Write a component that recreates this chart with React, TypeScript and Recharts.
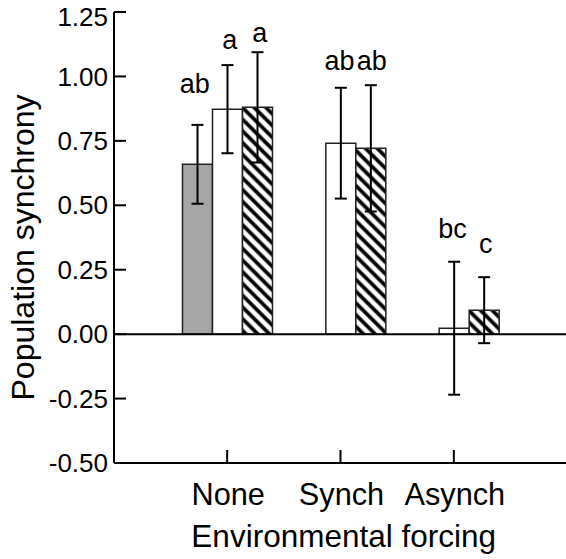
import React from 'react';
import { BarChart, Bar, XAxis, YAxis, ErrorBar, LabelList, ReferenceLine } from 'recharts';

// ---------- data ----------
const categories = ['None', 'Synch', 'Asynch'];
const greyValues = [0.659, null, null];
const greyErrors = [0.153, null, null];
const whiteValues = [0.873, 0.741, 0.023];
const whiteErrors = [0.171, 0.215, 0.258];
const hatchedValues = [0.88, 0.721, 0.093];
const hatchedErrors = [0.214, 0.245, 0.128];
const greyLetters = ['ab', '', ''];
const whiteLetters = ['a', 'ab', 'bc'];
const hatchedLetters = ['a', 'ab', 'c'];
const yTicks = [-0.5, -0.25, 0, 0.25, 0.5, 0.75, 1, 1.25];
const yDomain = [-0.5, 1.25];

const data = categories.map((cat, i) => ({
  cat,
  grey: greyValues[i],
  greyErr: greyErrors[i],
  greyLetter: greyLetters[i],
  white: whiteValues[i],
  whiteErr: whiteErrors[i],
  whiteLetter: whiteLetters[i],
  hatched: hatchedValues[i],
  hatchedErr: hatchedErrors[i],
  hatchedLetter: hatchedLetters[i],
}));

// ---------- layout / style ----------
const FONT = 'Liberation Sans, Arial, Helvetica, sans-serif';
const CHART_W = 580;
const CHART_H = 559;
const MARGIN = { top: 12, right: 0, bottom: 0, left: 0 };
const Y_AXIS_W = 114;
const RIGHT_AXIS_W = 13;
const X_AXIS_H = 96;
const PLOT_H = CHART_H - MARGIN.top - MARGIN.bottom - X_AXIS_H;
const PX_PER_UNIT = PLOT_H / (yDomain[1] - yDomain[0]);
const AXIS = { stroke: '#000', strokeWidth: 2 };

// letter placement: gap (px) above the error-bar top, and horizontal nudge
const GREY_LABEL = { gap: [32, 0, 0], dx: [-2.7, 0, 0] };
const WHITE_LABEL = { gap: [15.7, 17.7, 23.4], dx: [2.3, -1.3, -1.7] };
const HATCH_LABEL = { gap: [10.6, 15, 24.4], dx: [2.3, 1, 1.7] };

const makeLetter = (errs: (number | null)[], cfg: { gap: number[]; dx: number[] }) => (p: any) => {
  const value = p.value;
  if (!value) return null;
  const idx = p.index ?? 0;
  const x = p.x ?? p.viewBox?.x;
  const y = p.y ?? p.viewBox?.y;
  const w = p.width ?? p.viewBox?.width;
  const err = errs[idx] ?? 0;
  const top = y - err * PX_PER_UNIT;
  return (
    <text
      x={x + w / 2 + cfg.dx[idx]}
      y={top - cfg.gap[idx]}
      textAnchor="middle"
      fontSize={27}
      fontFamily={FONT}
      fill="#000"
    >
      {value}
    </text>
  );
};

const LeftTick = (p: any) => {
  const { x, y, payload } = p;
  const v = payload.value as number;
  const nudge = v === 1.25 ? 5.3 : 0;
  return (
    <g>
      <line x1={x} x2={x + 12} y1={y} y2={y} stroke="#000" strokeWidth={2} />
      <text x={x - 6} y={y + nudge} dy="0.35em" textAnchor="end" fontSize={26} fontFamily={FONT} fill="#000">
        {v.toFixed(2)}
      </text>
    </g>
  );
};

const RightTick = (p: any) => {
  const { x, y } = p;
  return <line x1={x - 12} x2={x} y1={y} y2={y} stroke="#000" strokeWidth={2} />;
};

const BottomTick = (p: any) => {
  const { x, y, payload } = p;
  return (
    <g>
      <line x1={x} x2={x} y1={y - 13} y2={y} stroke="#000" strokeWidth={2} />
      <text x={x + 1} y={y + 42} textAnchor="middle" fontSize={30.7} fontFamily={FONT} fill="#000">
        {payload.value}
      </text>
    </g>
  );
};

const TopTick = (p: any) => {
  const { x, y } = p;
  return <line x1={x} x2={x} y1={y} y2={y + 12} stroke="#000" strokeWidth={2} />;
};

const YTitle = (p: any) => {
  const vb = p.viewBox || { x: 0, y: MARGIN.top, width: Y_AXIS_W, height: PLOT_H };
  const cx = vb.x + 34;
  const cy = vb.y + vb.height / 2 + 10;
  return (
    <text
      x={cx}
      y={cy}
      transform={`rotate(-90, ${cx}, ${cy})`}
      textAnchor="middle"
      fontSize={32}
      fontFamily={FONT}
      fill="#000"
    >
      Population synchrony
    </text>
  );
};

const XTitle = (p: any) => {
  const vb = p.viewBox || { x: Y_AXIS_W, y: MARGIN.top + PLOT_H, width: 453, height: X_AXIS_H };
  return (
    <text
      x={vb.x + vb.width / 2 + 3.2}
      y={vb.y + 83.7}
      textAnchor="middle"
      fontSize={31.5}
      fontFamily={FONT}
      fill="#000"
    >
      Environmental forcing
    </text>
  );
};

export default function App() {
  return (
    <div
      style={{
        position: 'absolute',
        left: 0,
        top: 0,
        width: 566,
        height: 559,
        overflow: 'hidden',
        background: '#fff',
      }}
    >
      <BarChart
        width={CHART_W}
        height={CHART_H}
        data={data}
        margin={MARGIN}
        barGap={0}
        barSize={30}
        style={{ fontFamily: FONT }}
      >
        <defs>
          <pattern id="hatch" patternUnits="userSpaceOnUse" width="8.3" height="8.3" patternTransform="rotate(-45)">
            <rect x="0" y="0" width="8.3" height="8.3" fill="#fff" />
            <line x1="4.15" y1="-1" x2="4.15" y2="9.3" stroke="#000" strokeWidth="3.7" />
          </pattern>
        </defs>
        <XAxis
          xAxisId="b"
          dataKey="cat"
          orientation="bottom"
          height={X_AXIS_H}
          padding={{ left: 56.5, right: 56.5 }}
          interval={0}
          tickLine={false}
          tickSize={0}
          tickMargin={0}
          axisLine={AXIS}
          tick={BottomTick}
          label={XTitle}
        />
        <XAxis
          xAxisId="t"
          dataKey="cat"
          orientation="top"
          height={0}
          padding={{ left: 56.5, right: 56.5 }}
          interval={0}
          tickLine={false}
          tickSize={0}
          tickMargin={0}
          axisLine={AXIS}
          tick={TopTick}
        />
        <YAxis
          yAxisId="l"
          orientation="left"
          type="number"
          width={Y_AXIS_W}
          domain={yDomain}
          ticks={yTicks}
          interval={0}
          tickLine={false}
          tickSize={0}
          tickMargin={0}
          axisLine={AXIS}
          tick={LeftTick}
          label={YTitle}
        />
        <YAxis
          yAxisId="r"
          orientation="right"
          type="number"
          width={RIGHT_AXIS_W}
          domain={yDomain}
          ticks={yTicks}
          interval={0}
          tickLine={false}
          tickSize={0}
          tickMargin={0}
          axisLine={AXIS}
          tick={RightTick}
        />
        <Bar xAxisId="b" yAxisId="l" dataKey="grey" fill="#a6a6a6" stroke="#222" strokeWidth={1.5} isAnimationActive={false}>
          <ErrorBar dataKey="greyErr" width={6} stroke="#000" strokeWidth={2} isAnimationActive={false} />
          <LabelList dataKey="greyLetter" content={makeLetter(greyErrors, GREY_LABEL)} />
        </Bar>
        <Bar xAxisId="b" yAxisId="l" dataKey="white" fill="#fff" stroke="#222" strokeWidth={1.5} isAnimationActive={false}>
          <ErrorBar dataKey="whiteErr" width={6} stroke="#000" strokeWidth={2} isAnimationActive={false} />
          <LabelList dataKey="whiteLetter" content={makeLetter(whiteErrors, WHITE_LABEL)} />
        </Bar>
        <Bar xAxisId="b" yAxisId="l" dataKey="hatched" fill="url(#hatch)" stroke="#222" strokeWidth={1.5} isAnimationActive={false}>
          <ErrorBar dataKey="hatchedErr" width={6} stroke="#000" strokeWidth={2} isAnimationActive={false} />
          <LabelList dataKey="hatchedLetter" content={makeLetter(hatchedErrors, HATCH_LABEL)} />
        </Bar>
        <ReferenceLine xAxisId="b" yAxisId="l" y={0} stroke="#000" strokeWidth={2} />
      </BarChart>
    </div>
  );
}
